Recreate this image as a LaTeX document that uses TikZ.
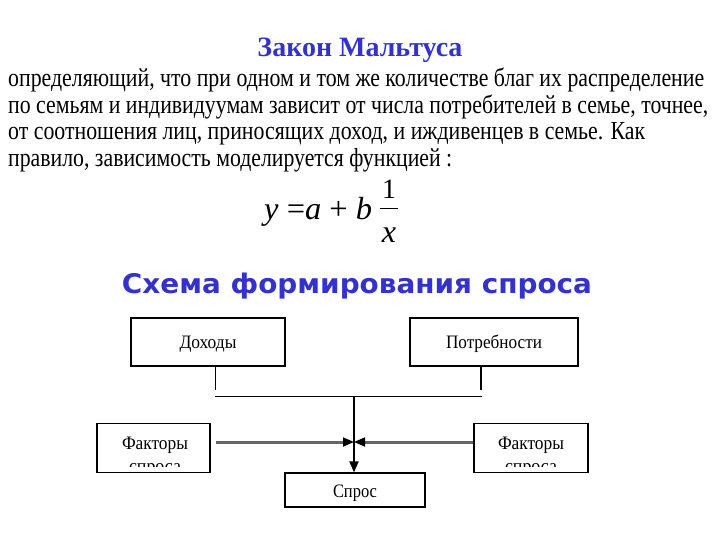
\documentclass[tikz,border=0pt]{standalone}
\usepackage{fontspec}
\setmainfont{Liberation Serif}
\newfontfamily\titlesans{DejaVu Sans}
\usetikzlibrary{arrows.meta}
\definecolor{titleblue}{RGB}{51,51,204}
\tikzset{
  bodyline/.style={anchor=base west, inner sep=0pt, font=\fontsize{26}{26}\selectfont},
  box/.style={draw, line width=1.2pt, inner sep=0pt},
  boxtext/.style={inner sep=0pt, font=\fontsize{19}{19}\selectfont},
  conn/.style={line width=1pt},
  factline/.style={line width=3pt, color=black!60},
  tip/.style={-{Triangle[length=11pt,width=9pt]}, line width=1.8pt}
}
\begin{document}
\begin{tikzpicture}[x=1pt,y=-1pt]
\useasboundingbox (0,0) rectangle (720,540);
% title
\node[anchor=base, inner sep=0pt, text=titleblue, font=\bfseries\fontsize{28}{28}\selectfont] (t1) at (360,57) {\resizebox{205pt}{\height}{Закон Мальтуса}};
% body
\node[bodyline] (l1) at (8,87) {\resizebox{696pt}{\height}{определяющий, что при одном и том же количестве благ их распределение}};
\node[bodyline] (l2) at (8,114) {\resizebox{700pt}{\height}{по семьям и индивидуумам зависит от числа потребителей в семье, точнее,}};
\node[bodyline] (l3) at (8,140) {\resizebox{637pt}{\height}{от соотношения лиц, приносящих доход, и иждивенцев в семье. Как}};
\node[bodyline] (l4) at (8,167) {\resizebox{444pt}{\height}{правило, зависимость моделируется функцией :}};
% formula
\node[anchor=base west, inner sep=0pt, font=\fontsize{32}{32}\selectfont] (f1) at (264,219) {\resizebox{108pt}{\height}{\textit{y} =\textit{a} + \textit{b}}};
\node[anchor=base, inner sep=0pt, font=\fontsize{28}{28}\selectfont] (fn) at (389,199) {1};
\draw[line width=0.9pt] (380,208) -- (398,208);
\node[anchor=base, inner sep=0pt, font=\itshape\fontsize{32}{32}\selectfont] (fd) at (389,242) {x};
% second title
\node[anchor=base, inner sep=0pt, text=titleblue, font=\titlesans\bfseries\fontsize{27}{27}\selectfont] (t2) at (357,293) {\resizebox{470pt}{\height}{Схема формирования спроса}};
% boxes
\node[box, minimum width=154pt, minimum height=48pt] (doh) at (208,342) {};
\node[boxtext, anchor=base] at (208,348) {\resizebox{57pt}{\height}{Доходы}};
\node[box, minimum width=168pt, minimum height=48pt] (potr) at (494,342) {};
\node[boxtext, anchor=base] at (494,348) {\resizebox{96pt}{\height}{Потребности}};
\node[box, minimum width=113pt, minimum height=49pt] (fl) at (153.5,448) {};
\node[box, minimum width=114pt, minimum height=49pt] (fr) at (531,448) {};
\begin{scope}
\clip (97,424) rectangle (210,466.5);
\node[boxtext, anchor=base] at (155,449) {\resizebox{66pt}{\height}{Факторы}};
\node[boxtext, anchor=base] at (155,472) {\resizebox{52pt}{\height}{спроса}};
\end{scope}
\begin{scope}
\clip (474,424) rectangle (588,466.5);
\node[boxtext, anchor=base] at (531,449) {\resizebox{66pt}{\height}{Факторы}};
\node[boxtext, anchor=base] at (531,472) {\resizebox{52pt}{\height}{спроса}};
\end{scope}
\node[box, minimum width=140pt, minimum height=34pt] (spr) at (355,490) {};
\node[boxtext, anchor=base] at (355,497) {\resizebox{44pt}{\height}{Спрос}};
% connectors
\coordinate (jl) at (215,390);
\coordinate (jr) at (481,390);
\coordinate (hl) at (215,396);
\coordinate (hr) at (482,396);
\coordinate (mid) at (354,396);
\coordinate (mc) at (354,442);
\coordinate (ml) at (344,442);
\coordinate (mr) at (364,442);
\draw[conn] (doh.south -| jl) -- (jl);
\draw[line width=2pt] (potr.south -| jr) -- (jr);
\draw[conn] (hl) -- (hr);
\draw[tip] (mid) -- (mid |- spr.north);
\draw[factline] ([xshift=5pt]fl.east |- ml) -- (ml);
\draw[factline] (fr.west |- mr) -- (mr);
\draw[tip] (ml) -- (mc);
\draw[tip] (mr) -- (mc);
\end{tikzpicture}
\end{document}
